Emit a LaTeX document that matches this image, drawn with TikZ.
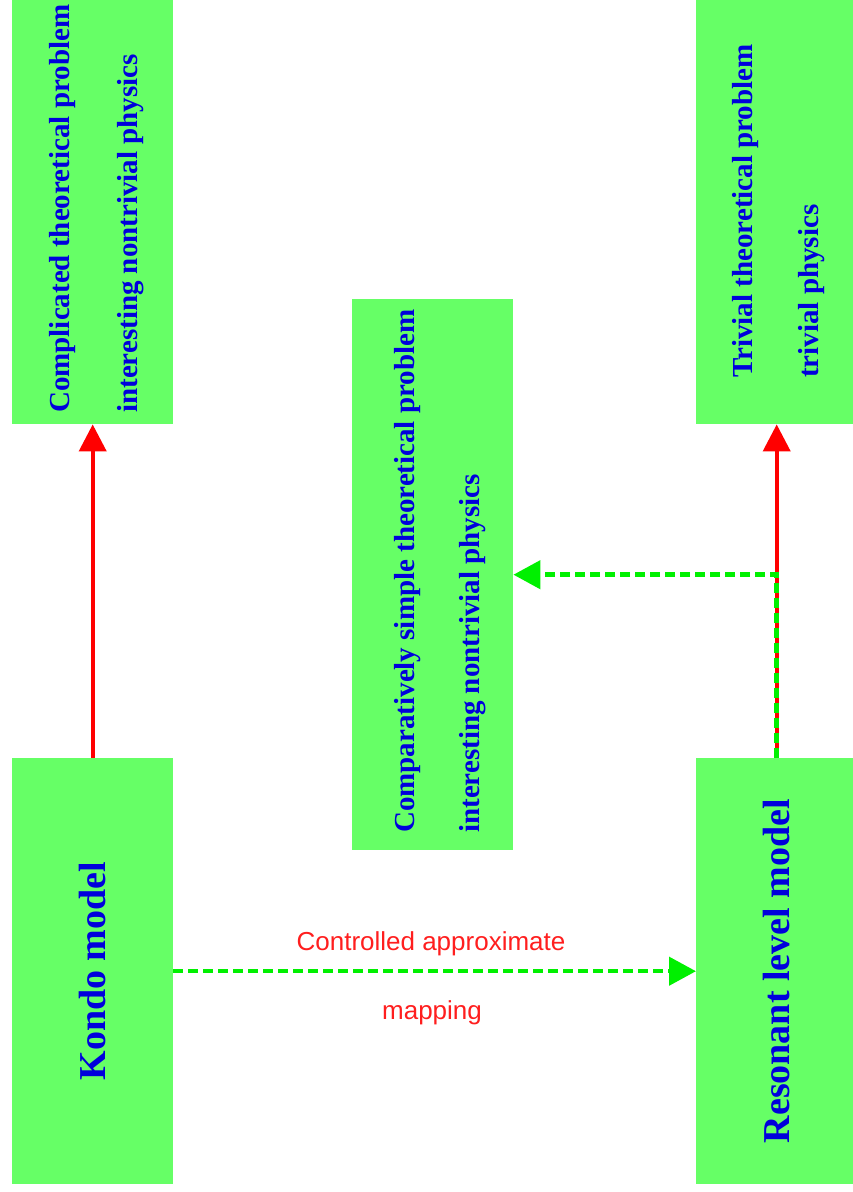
\documentclass[tikz,border=0pt]{standalone}
\usepackage{fontspec}
\setmainfont{Liberation Serif}
\newfontfamily\lsans{Liberation Sans}
\usetikzlibrary{arrows.meta}
\definecolor{boxgreen}{RGB}{102,255,102}
\definecolor{txtblue}{RGB}{0,0,220}
\definecolor{arrred}{RGB}{255,0,0}
\definecolor{arrgreen}{RGB}{0,240,0}
\definecolor{lblred}{RGB}{255,30,30}
\tikzset{
  greenbox/.style={fill=boxgreen, draw=none, inner sep=0pt, anchor=north west},
  boxtext/.style={rotate=90, anchor=base west, inner sep=0pt, text=txtblue,
    font=\fontsize{29}{34}\selectfont\bfseries},
  bigtext/.style={rotate=90, anchor=center, inner sep=0pt, text=txtblue,
    font=\fontsize{38}{44}\selectfont\bfseries},
  redarrow/.style={draw=arrred, line width=4pt, -{Triangle[length=27pt,width=27pt]}, arrred},
  greendash/.style={draw=arrgreen, line width=4.5pt, dash pattern=on 10pt off 5pt,
    -{Triangle[length=27pt,width=28pt]}, arrgreen},
  lbl/.style={text=lblred, inner sep=0pt, anchor=base, font=\lsans\fontsize{26}{30}\selectfont}
}
\begin{document}
\begin{tikzpicture}[x=1pt,y=-1pt]
\useasboundingbox (0,0) rectangle (853,1192);
% boxes
\node[greenbox, minimum width=161pt, minimum height=434pt] (tl) at (12,-10) {};
\node[greenbox, minimum width=161pt, minimum height=434pt] (tr) at (696,-10) {};
\node[greenbox, minimum width=161pt, minimum height=551pt] (mid) at (352,299) {};
\node[greenbox, minimum width=161pt, minimum height=426pt] (kondo) at (12,758) {};
\node[greenbox, minimum width=161pt, minimum height=426pt] (res) at (696,758) {};
% texts
\node[boxtext] (tl1) at (69,413) {Complicated theoretical problem};
\node[boxtext] (tl2) at (137,413) {interesting nontrivial physics};
\node[boxtext] (tr1) at (752,378) {Trivial theoretical problem};
\node[boxtext] (tr2) at (818,378) {trivial physics};
\node[boxtext] (m1) at (414,833) {Comparatively simple theoretical problem};
\node[boxtext] (m2) at (479,833) {interesting nontrivial physics};
\node[bigtext] (k1) at (kondo.center) {Kondo model};
\node[bigtext] (r1) at (res.center) {Resonant level model};
% connectors
\draw[redarrow] (kondo.north) -- (tl.south);
\draw[redarrow] (res.north) -- (tr.south);
\draw[greendash] (res.north) |- (mid.east);
\draw[greendash] (kondo.east) -- (res.west);
% labels
\node[lbl] (l1) at (431,950) {Controlled approximate};
\node[lbl] (l2) at (432,1019) {mapping};
\end{tikzpicture}
\end{document}
